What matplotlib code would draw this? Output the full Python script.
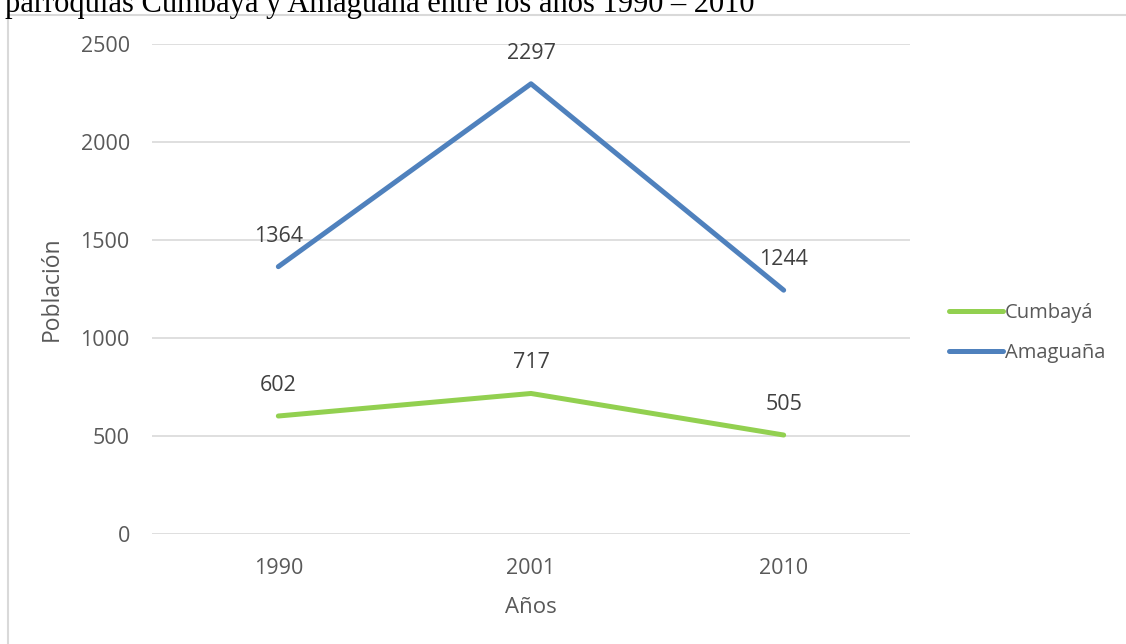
import matplotlib.pyplot as plt
from matplotlib.patches import Rectangle

years = ["1990", "2001", "2010"]
cumbaya = [602, 717, 505]
amaguana = [1364, 2297, 1244]

plt.rcParams['font.family'] = ['Open Sans', 'DejaVu Sans']
gris = '#595959'

fig = plt.figure(figsize=(11.26, 6.44), dpi=100)
ax = fig.add_axes([152/1126, 110/644, 758/1126, 490/644])

x = range(len(years))
ax.plot(x, cumbaya, color='#92D050', lw=3.6, label='Cumbayá', solid_capstyle='round')
ax.plot(x, amaguana, color='#4F81BD', lw=3.6, label='Amaguaña', solid_capstyle='round')

# etiquetas de datos encima de cada punto
for serie in (cumbaya, amaguana):
    for i, v in enumerate(serie):
        ax.annotate(str(v), (i, v), xytext=(0, 22), textcoords='offset points',
                    ha='center', va='center', fontsize=15.5, color='#404040')

ax.set_xlim(-0.5, 2.5)
ax.set_ylim(0, 2500)
ax.set_yticks(range(0, 2501, 500))
ax.set_xticks(list(x))
ax.set_xticklabels(years)
ax.grid(axis='y', color='#D9D9D9', lw=1.2)
ax.set_axisbelow(True)
for s in ax.spines.values():
    s.set_visible(False)
ax.tick_params(length=0, colors=gris, labelsize=15.5)
ax.tick_params(axis='y', pad=16)
ax.tick_params(axis='x', pad=17)
ax.set_xlabel('Años', fontsize=16, color=gris, labelpad=13)
ax.set_ylabel('Población', fontsize=16.5, color=gris, labelpad=12)

leg = ax.legend(loc='center left', bbox_to_anchor=(1.027, 0.41), frameon=False,
                fontsize=14.5, handlelength=2.7, handletextpad=0.1, labelspacing=1.0)
for t in leg.get_texts():
    t.set_color(gris)

# marco gris del grafico y titulo recortado arriba
fig.patches.append(Rectangle((8/1126, -0.1), 1.2, (629/644) + 0.1, transform=fig.transFigure,
                             fill=False, edgecolor='#D9D9D9', lw=1.5))
fig.text(5/1126, 1 - 12/644, 'parroquias Cumbayá y Amaguaña entre los años 1990 – 2010',
         family='Liberation Serif', fontsize=22, va='baseline', ha='left')

fig.savefig('out.png', dpi=100)
